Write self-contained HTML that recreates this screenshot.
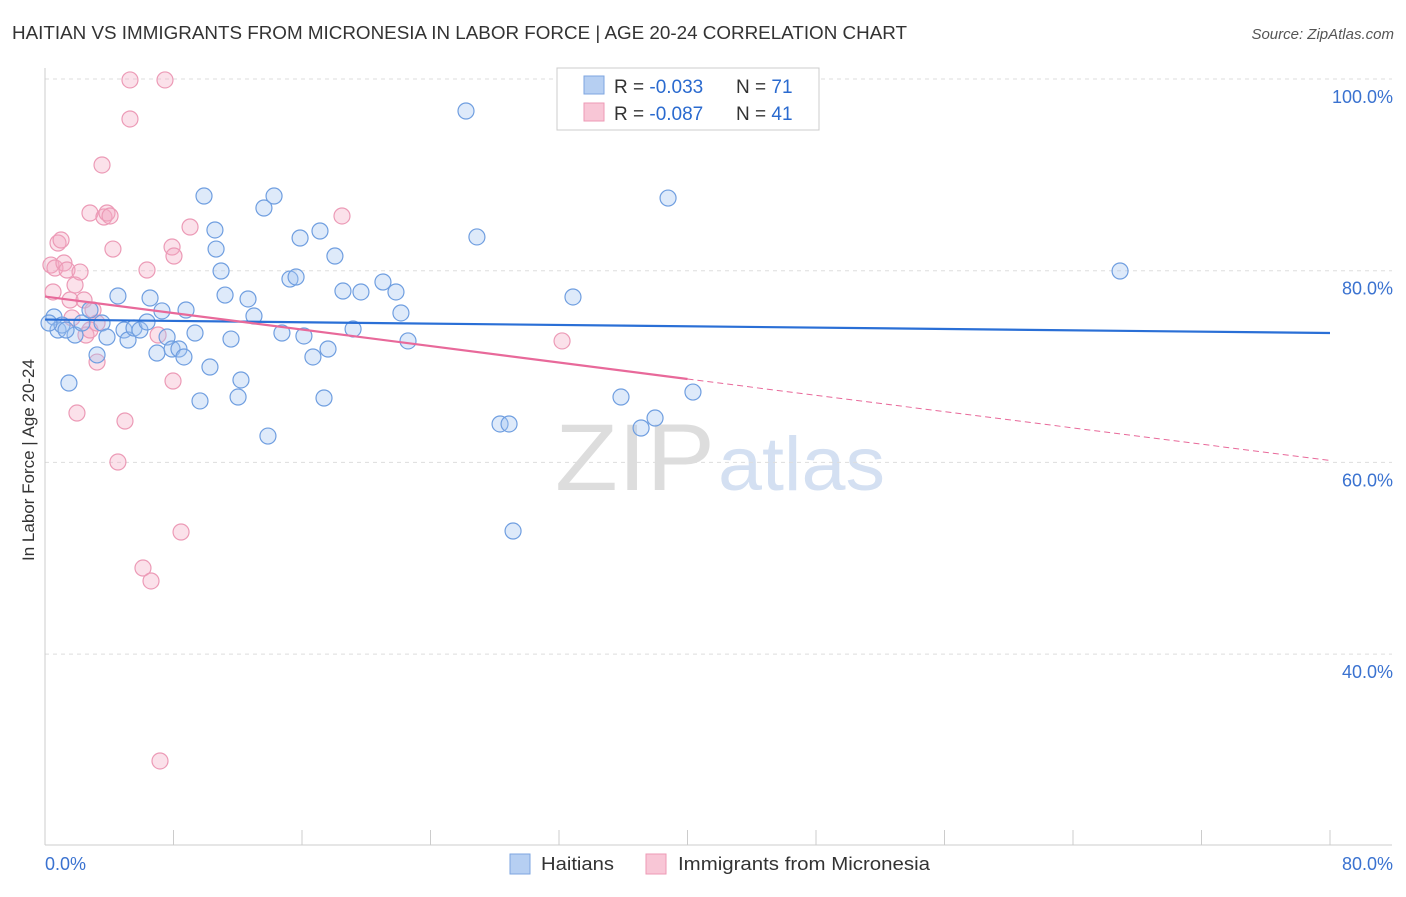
<!DOCTYPE html>
<html><head><meta charset="utf-8"><style>
body{margin:0;background:#fff;font-family:"Liberation Sans",sans-serif}
svg text{font-family:"Liberation Sans",sans-serif}
</style></head><body>
<svg id="c" width="1406" height="892">
<text x="12" y="39" font-size="18" fill="#333" textLength="895" lengthAdjust="spacingAndGlyphs">HAITIAN VS IMMIGRANTS FROM MICRONESIA IN LABOR FORCE | AGE 20-24 CORRELATION CHART</text>
<text x="1394" y="39" font-size="15" fill="#555" text-anchor="end" font-style="italic">Source: ZipAtlas.com</text>
<text x="34" y="460" font-size="17" fill="#333" text-anchor="middle" transform="rotate(-90 34 460)">In Labor Force | Age 20-24</text>
<text x="555" y="490" font-size="95" fill="#ddd" textLength="160" lengthAdjust="spacingAndGlyphs" font-family="Liberation Serif">ZIP</text>
<text x="718" y="490" font-size="76" fill="#d4e0f2" textLength="167" lengthAdjust="spacingAndGlyphs">atlas</text>
<g id="grid"></g><g id="pts"></g><g id="lines"></g>
<g>
<rect x="557" y="68" width="262" height="62" fill="#fff" stroke="#ccc"/>
<rect x="584" y="76" width="20" height="18" fill="#b6cff2" stroke="#7ea6e0"/>
<rect x="584" y="103" width="20" height="18" fill="#f8c6d6" stroke="#ee9ab5"/>
<text x="614" y="93" font-size="19" fill="#333">R = <tspan fill="#2a6acf">-0.033</tspan></text>
<text x="736" y="93" font-size="19" fill="#333">N = <tspan fill="#2a6acf">71</tspan></text>
<text x="614" y="120" font-size="19" fill="#333">R = <tspan fill="#2a6acf">-0.087</tspan></text>
<text x="736" y="120" font-size="19" fill="#333">N = <tspan fill="#2a6acf">41</tspan></text>
</g>
<g>
<rect x="510" y="854" width="20" height="20" fill="#b6cff2" stroke="#7ea6e0"/>
<text x="541" y="870" font-size="18" fill="#333" textLength="73" lengthAdjust="spacingAndGlyphs">Haitians</text>
<rect x="646" y="854" width="20" height="20" fill="#f8c6d6" stroke="#ee9ab5"/>
<text x="678" y="870" font-size="18" fill="#333" textLength="252" lengthAdjust="spacingAndGlyphs">Immigrants from Micronesia</text>
</g>
</svg>
<script>
const yTicks=[100,80,60,40];
const xTickLabels=["0.0%","80.0%"];
const bluePx=[[54,317],[58,330],[62,325],[69,383],[75,335],[82,323],[97,355],[102,323],[107,337],[118,296],[124,330],[128,340],[134,328],[140,330],[147,322],[150,298],[157,353],[162,311],[167,337],[172,349],[179,349],[184,357],[195,333],[200,401],[204,196],[210,367],[215,230],[216,249],[221,271],[225,295],[231,339],[238,397],[241,380],[248,299],[254,316],[264,208],[268,436],[274,196],[282,333],[290,279],[296,277],[300,238],[304,336],[313,357],[320,231],[324,398],[328,349],[335,256],[343,291],[353,329],[361,292],[383,282],[396,292],[401,313],[408,341],[466,111],[477,237],[500,424],[509,424],[513,531],[573,297],[621,397],[641,428],[655,418],[668,198],[693,392],[1120,271],[49,323],[90,310],[66,330],[186,310]];
const pinkPx=[[51,265],[53,292],[55,268],[58,243],[61,240],[64,263],[67,270],[70,300],[72,318],[75,285],[77,413],[80,272],[84,300],[86,335],[90,213],[93,310],[97,362],[102,165],[104,217],[107,213],[110,216],[113,249],[118,462],[125,421],[130,80],[130,119],[143,568],[147,270],[151,581],[158,335],[165,80],[172,247],[173,381],[174,256],[181,532],[190,227],[160,761],[342,216],[562,341],[90,330],[97,323]];
const fx=p=>(p-45)/1285*80, fy=p=>100-(p-79)/191.7*20;
const blueX=bluePx.map(p=>+fx(p[0]).toFixed(2)), blueY=bluePx.map(p=>+fy(p[1]).toFixed(2));
const pinkX=pinkPx.map(p=>+fx(p[0]).toFixed(2)), pinkY=pinkPx.map(p=>+fy(p[1]).toFixed(2));
const blueFit=[74.9,73.5], pinkFit=[77.3,68.7,60.2];
const X=v=>45+v/80*1285, Y=v=>79+(100-v)/20*191.7;
const NS="http://www.w3.org/2000/svg";
function mk(t,a,parent){const e=document.createElementNS(NS,t);for(const k in a)e.setAttribute(k,a[k]);document.getElementById(parent).appendChild(e);return e;}
yTicks.forEach(v=>{
 const l=mk('line',{x1:45,x2:1392,y1:Y(v),y2:Y(v),stroke:'#ddd','stroke-dasharray':'4 4'},'grid');
 
 
 const t=mk('text',{x:1393,y:Y(v)+24,'font-size':18,fill:'#3a72d0','text-anchor':'end'},'grid');t.textContent=v.toFixed(1)+'%';
 
 
});
mk('line',{x1:45,x2:45,y1:68,y2:845,stroke:'#ccc'},'grid');
mk('line',{x1:45,x2:1392,y1:845,y2:845,stroke:'#ccc'},'grid');
for(let i=0;i<=10;i++){const x=X(i*8);mk('line',{x1:x,x2:x,y1:830,y2:845,stroke:'#ccc'},'grid');}
xTickLabels.forEach((s,i)=>{const t=mk('text',{x:i?1393:45,y:870,'font-size':18,fill:'#3a72d0','text-anchor':i?'end':'start'},'grid');t.textContent=s;
 
 });
pinkX.forEach((x,i)=>{const c=mk('circle',{cx:X(x),cy:Y(pinkY[i]),r:8,fill:'rgba(244,170,195,0.35)',stroke:'#ec9ab6','stroke-width':1.2},'pts');
 
 });
blueX.forEach((x,i)=>{const c=mk('circle',{cx:X(x),cy:Y(blueY[i]),r:8,fill:'rgba(160,195,240,0.35)',stroke:'#6f9ee0','stroke-width':1.2},'pts');
 
 });
const b=mk('line',{x1:X(0),y1:Y(blueFit[0]),x2:X(80),y2:Y(blueFit[1]),stroke:'#2a6fd6','stroke-width':2.2},'lines');


const p=mk('line',{x1:X(0),y1:Y(pinkFit[0]),x2:X(40),y2:Y(pinkFit[1]),stroke:'#e8699a','stroke-width':2.2},'lines');


const pd=mk('line',{x1:X(40),y1:Y(pinkFit[1]),x2:X(80),y2:Y(pinkFit[2]),stroke:'#e8699a','stroke-width':1,'stroke-dasharray':'6 4'},'lines');


</script>
</body></html>
